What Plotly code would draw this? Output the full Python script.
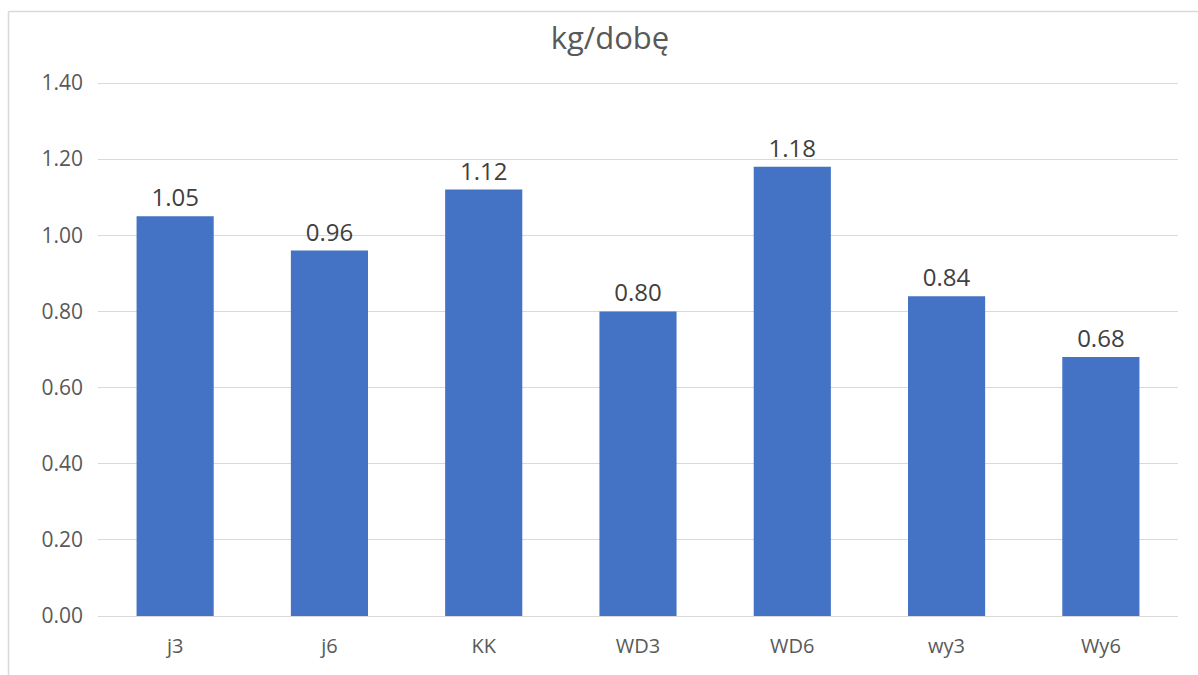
import plotly.graph_objects as go

# Daily amounts per group
categories = ["j3", "j6", "KK", "WD3", "WD6", "wy3", "Wy6"]
values = [1.05, 0.96, 1.12, 0.80, 1.18, 0.84, 0.68]
y_ticks = [0.0, 0.2, 0.4, 0.6, 0.8, 1.0, 1.2, 1.4]
y_max = 1.4105  # small headroom so the 1.40 gridline is drawn

W, H = 1198, 675
ML, MR, MT, MB = 98, 20, 79, 59
PW, PH = W - ML - MR, H - MT - MB
FONT = "Open Sans, sans-serif"

fig = go.Figure(
    go.Bar(
        x=categories,
        y=values,
        marker=dict(color="#4472C4", line=dict(width=0)),
        width=0.5,
        text=[f"{v:.2f}" for v in values],
        textposition="outside",
        textfont=dict(family=FONT, size=24, color="#404040"),
        cliponaxis=False,
    )
)

# chart frame: left and top edges
fx0 = (8.5 - ML) / PW
fy1 = (H - MB - 11.5) / PH
fig.add_shape(type="line", xref="paper", yref="paper",
              x0=fx0, x1=(W + 5 - ML) / PW, y0=fy1, y1=fy1,
              line=dict(color="#d9d9d9", width=1.5))
fig.add_shape(type="line", xref="paper", yref="paper",
              x0=fx0, x1=fx0, y0=fy1, y1=-(MB + 5) / PH,
              line=dict(color="#d9d9d9", width=1.5))

fig.update_layout(
    width=W, height=H,
    margin=dict(l=ML, r=MR, t=MT, b=MB),
    paper_bgcolor="white", plot_bgcolor="white",
    showlegend=False,
    title=dict(text="kg/dobę", x=(610 - ML) / PW, xref="paper", xanchor="center",
               y=(H - 38) / H, yanchor="middle",
               font=dict(family=FONT, size=31, color="#595959")),
    bargap=0.5,
)
fig.update_yaxes(
    range=[0, y_max], tickvals=y_ticks, tickformat=".2f",
    showgrid=True, gridcolor="#d9d9d9", gridwidth=1,
    zeroline=False, showline=False, ticks="",
    ticklabelstandoff=14,
    tickfont=dict(family=FONT, size=21, color="#595959"),
)
fig.update_xaxes(
    showline=True, linecolor="#d9d9d9", linewidth=1, ticks="",
    ticklabelstandoff=12,
    tickfont=dict(family=FONT, size=20, color="#595959"),
)

fig.write_html("out.html")
